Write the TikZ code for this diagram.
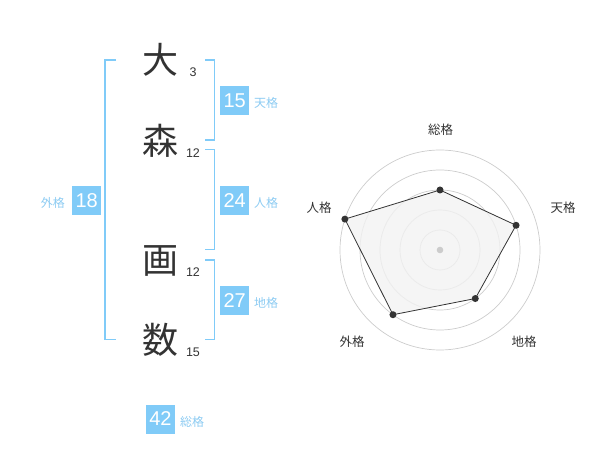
\documentclass[tikz,border=0pt]{standalone}
\usepackage{fontspec}
\setmainfont{Liberation Sans}
\newfontfamily\cjk{Noto Sans CJK JP}
\begin{document}
\begin{tikzpicture}[x=1pt,y=-1pt,
  bigchar/.style={inner sep=0pt,font=\cjk\fontsize{36}{36}\selectfont,text=ink,text height=31.7pt,text depth=4.3pt},
  strokenum/.style={inner sep=0pt,font=\fontsize{12.5}{12.5}\selectfont,text=ink,anchor=base},
  numbox/.style={fill=boxblue,minimum width=29pt,minimum height=29pt,inner sep=0pt,text=white,font=\fontsize{20}{20}\selectfont},
  kakulabel/.style={inner sep=0pt,font=\cjk\fontsize{12}{12}\selectfont,text=labelblue},
  bracket/.style={draw=boxblue,line width=1.6pt},
  ring/.style={draw=ringgray,line width=0.7pt},
  radarlabel/.style={inner sep=0pt,font=\cjk\fontsize{12.5}{12.5}\selectfont,text=ink},
  dot/.style={circle,fill=ink,inner sep=0pt,minimum size=7pt}]
\definecolor{ink}{HTML}{333333}
\definecolor{boxblue}{HTML}{80CBF8}
\definecolor{labelblue}{HTML}{8CCBF2}
\definecolor{ringgray}{HTML}{CCCCCC}
\definecolor{polyfill}{HTML}{F2F2F2}
\useasboundingbox (0,0) rectangle (600,470);
% characters
\node[bigchar] (c1) at (160,60) {大};
\node[bigchar] (c2) at (160,141) {森};
\node[bigchar] (c3) at (160,260) {画};
\node[bigchar] (c4) at (160,340) {数};
\node[strokenum] (n1) at (193,77) {3};
\node[strokenum] (n2) at (193,157.5) {12};
\node[strokenum] (n3) at (193,276.5) {12};
\node[strokenum] (n4) at (193,357) {15};
% brackets
\draw[bracket] (116,60) -- (105,60) -- (105,339.5) -- (116,339.5);
\draw[bracket] (205,60) -- (214.5,60) -- (214.5,140) -- (205,140);
\draw[bracket] (205,149.5) -- (214.5,149.5) -- (214.5,249.5) -- (205,249.5);
\draw[bracket] (205,260) -- (214.5,260) -- (214.5,339.5) -- (205,339.5);
% boxes
\node[numbox] (ten) at (234.7,100.5) {15};
\node[kakulabel,anchor=west] (tenl) at (254,103) {天格};
\node[numbox] (jin) at (234.7,200.5) {24};
\node[kakulabel,anchor=west] (jinl) at (254,203) {人格};
\node[numbox] (chi) at (234.7,300.5) {27};
\node[kakulabel,anchor=west] (chil) at (254,303) {地格};
\node[numbox] (gai) at (86.7,200.5) {18};
\node[kakulabel,anchor=east] (gail) at (65,203) {外格};
\node[numbox] (so) at (160.5,419) {42};
\node[kakulabel,anchor=west] (sol) at (180,422) {総格};
% radar
\coordinate (ctr) at (440,250);
\foreach \r in {20,40,60,80,100} \draw[ring] (ctr) circle[radius=\r];
\coordinate (p1) at (440,190);
\coordinate (p2) at (516.08,225.28);
\coordinate (p3) at (475.27,298.54);
\coordinate (p4) at (392.98,314.72);
\coordinate (p5) at (344.89,219.10);
\filldraw[fill=polyfill,fill opacity=0.8,draw=ink,line width=0.8pt] (p1) -- (p2) -- (p3) -- (p4) -- (p5) -- cycle;
\fill[ringgray] (ctr) circle[radius=3.3];
\foreach \p in {p1,p2,p3,p4,p5} \node[dot] at (\p) {};
\node[radarlabel] (l1) at (440.5,130) {総格};
\node[radarlabel] (l2) at (563,208) {天格};
\node[radarlabel] (l3) at (524,342) {地格};
\node[radarlabel] (l4) at (352,342) {外格};
\node[radarlabel] (l5) at (319,208) {人格};
\end{tikzpicture}
\end{document}
